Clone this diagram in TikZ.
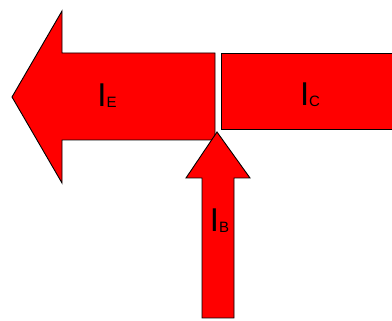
\documentclass[tikz,border=0pt]{standalone}
\usepackage{fontspec}
\setmainfont{Liberation Sans}
\newcommand{\subs}[1]{\raisebox{-1pt}{\fontsize{15}{18}\selectfont #1}}
\begin{document}
\begin{tikzpicture}[x=1pt,y=-1pt,
  arrowshape/.style={fill=red,draw=black,line width=0.9pt,line join=miter},
  lbl/.style={font=\fontsize{33}{38}\selectfont,inner sep=0pt}]
\useasboundingbox (0,0) rectangle (392,321);
\begin{scope}
\clip (0,0) rectangle (392,321);
% I_C bar
\draw[arrowshape] (221,53) -- (400,53) -- (400,129) -- (221,129) -- cycle;
% I_E arrow
\draw[arrowshape] (12,97) -- (62,11) -- (62,53) -- (215,53) -- (215,140) -- (62,140) -- (62,183) -- cycle;
% I_B arrow
\draw[arrowshape] (217,132) -- (250,178) -- (234,178) -- (234,318) -- (202,318) -- (202,178) -- (186,178) -- cycle;
\end{scope}
\node[lbl] (ie) at (107,95.5) {I\subs{E}};
\node[lbl] (ic) at (310,95) {I\subs{C}};
\node[lbl] (ib) at (219.5,221) {I\subs{B}};
\end{tikzpicture}
\end{document}
